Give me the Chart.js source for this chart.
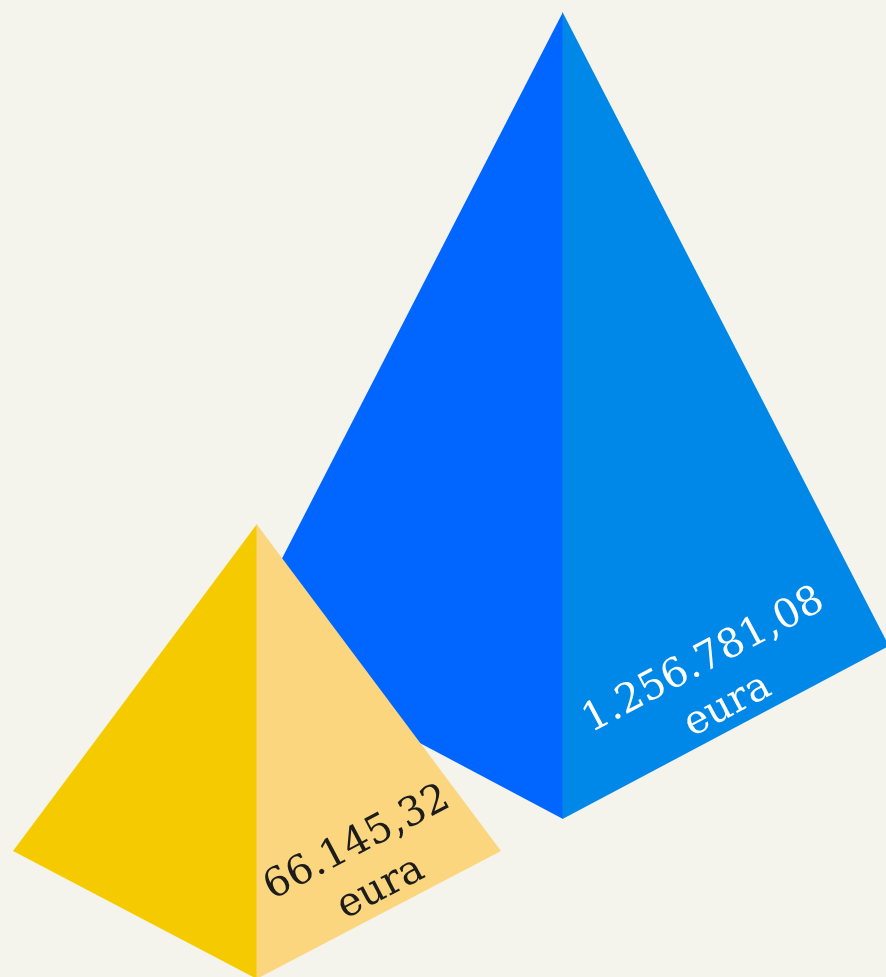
<!DOCTYPE html>
<html>
<head>
<meta charset="utf-8">
<script src="https://cdn.jsdelivr.net/npm/chart.js@4/dist/chart.umd.min.js"></script>
<style>
  html, body { margin: 0; padding: 0; background: #F4F3EC; }
  #wrap { width: 886px; height: 977px; }
</style>
</head>
<body>
<div id="wrap"><canvas id="pyramidChart" width="886" height="977"></canvas></div>
<script>
// Data
const categories = ['Manji iznos', 'Veći iznos'];
const amounts = [66145.32, 1256781.08];
const unitLabel = 'eura';

// Look of each pyramid (sizes in px, colours)
const pyramidLook = [
  { halfWidth: 244, depth: 128, lift: -2, leftFace: '#F5CB00', rightFace: '#FBD67E', textColor: '#1c1c1c' },
  { halfWidth: 326, depth: 173, lift: 158, leftFace: '#0066FF', rightFace: '#0088E8', textColor: '#ffffff' }
];

// 1256781.08 -> "1.256.781,08"
function formatAmount(v) {
  const parts = v.toFixed(2).split('.');
  const whole = parts[0].replace(/\B(?=(\d{3})+(?!\d))/g, '.');
  return whole + ',' + parts[1];
}

// Draws a pyramid in place of every bar, back one first
const pyramidPlugin = {
  id: 'pyramids',
  afterDatasetsDraw(chart) {
    const ctx = chart.ctx;
    const meta = chart.getDatasetMeta(0);
    const order = meta.data.map((_, i) => i).reverse();

    order.forEach(i => {
      const bar = meta.data[i];
      const look = pyramidLook[i];
      const { x, y, base } = bar.getProps(['x', 'y', 'base'], true);

      const front = base - look.lift;
      const side = front - look.depth;
      const left = x - look.halfWidth;
      const right = x + look.halfWidth;

      ctx.save();
      // left face
      ctx.beginPath();
      ctx.moveTo(x, y);
      ctx.lineTo(left, side);
      ctx.lineTo(x, front);
      ctx.closePath();
      ctx.fillStyle = look.leftFace;
      ctx.fill();

      // right face
      ctx.beginPath();
      ctx.moveTo(x - 0.5, y);
      ctx.lineTo(right, side);
      ctx.lineTo(x - 0.5, front);
      ctx.closePath();
      ctx.fillStyle = look.rightFace;
      ctx.fill();

      // value label along the lower right edge
      const angle = -Math.atan2(look.depth, look.halfWidth);
      const mx = (x + right) / 2;
      const my = (front + side) / 2;
      ctx.translate(mx, my);
      ctx.rotate(angle);
      ctx.fillStyle = look.textColor;
      ctx.font = '40px "DejaVu Serif", serif';
      ctx.textAlign = 'center';
      ctx.textBaseline = 'alphabetic';
      ctx.fillText(formatAmount(amounts[i]), 14, -63);
      ctx.fillText(unitLabel, 14, -12);
      ctx.restore();
    });
  }
};

new Chart(document.getElementById('pyramidChart').getContext('2d'), {
  type: 'bar',
  data: {
    labels: categories,
    datasets: [{
      data: amounts,
      backgroundColor: 'rgba(0,0,0,0)',
      borderWidth: 0
    }]
  },
  options: {
    responsive: false,
    animation: false,
    events: [],
    layout: {
      padding: { left: 104, right: 170, top: 0, bottom: 0 }
    },
    scales: {
      x: { type: 'category', display: false, offset: true },
      y: { type: 'logarithmic', display: false, bounds: 'data', min: 4887, max: 1346500 }
    },
    plugins: {
      legend: { display: false },
      tooltip: { enabled: false }
    }
  },
  plugins: [pyramidPlugin]
});
</script>
</body>
</html>
